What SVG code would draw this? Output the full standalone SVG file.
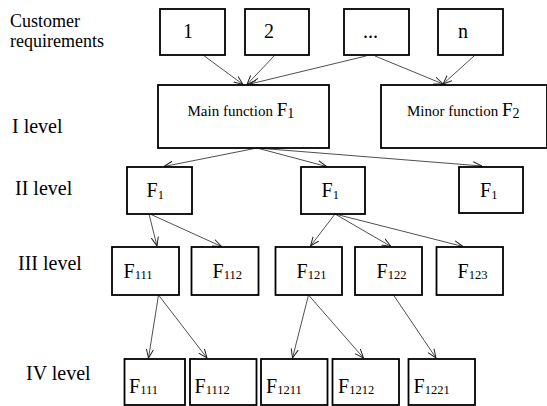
<svg xmlns="http://www.w3.org/2000/svg" width="547" height="406" viewBox="0 0 547 406">
<style>
  .box { fill: #fff; stroke: #000; stroke-width: 1.8; }
  .lbl { font-family: 'Liberation Serif', 'Times New Roman', serif; fill: #000; }
  .lv { font-size: 20px; }
  .cr { font-size: 18px; }
  .num { font-size: 20px; }
  .fn { font-size: 15px; }
  .F { font-size: 20px; }
  .F2 { font-size: 19px; }
  .sub { font-size: 12.5px; }
  .sub2 { font-size: 14px; }
  .con line { stroke: #222; stroke-width: 0.8; fill: none; marker-end: url(#ah); }
</style>
<defs>
  <marker id="ah" viewBox="0 0 10 10" refX="10" refY="5" markerWidth="9" markerHeight="9" markerUnits="userSpaceOnUse" orient="auto">
    <path d="M0,1 L10,5 L0,9" fill="none" stroke="#222" stroke-width="1.1"/>
  </marker>
</defs>

<g id="level-labels" class="lbl">
  <text class="cr" x="10" y="27">Customer</text>
  <text class="cr" x="10" y="47">requirements</text>
  <text class="lv" x="12" y="133">I level</text>
  <text class="lv" x="15" y="195">II level</text>
  <text class="lv" x="18" y="270">III level</text>
  <text class="lv" x="26" y="380">IV level</text>
</g>

<g id="connectors" class="con">
  <line x1="203" y1="55" x2="243" y2="84.5"/>
  <line x1="275" y1="55" x2="247" y2="84.5"/>
  <line x1="366" y1="56" x2="250" y2="84"/>
  <line x1="375" y1="56" x2="443" y2="84"/>
  <line x1="474" y1="56" x2="443" y2="84"/>

  <line x1="257" y1="148" x2="164" y2="166.5"/>
  <line x1="257" y1="148" x2="326.5" y2="166.5"/>
  <line x1="257" y1="148" x2="482" y2="166"/>

  <line x1="149" y1="214" x2="157" y2="246"/>
  <line x1="150" y1="214" x2="221.5" y2="246.5"/>
  <line x1="335" y1="214" x2="310.5" y2="246"/>
  <line x1="335" y1="214" x2="391" y2="246.5"/>
  <line x1="335" y1="214" x2="463" y2="246.5"/>

  <line x1="158.5" y1="295" x2="148.5" y2="358"/>
  <line x1="158.5" y1="295" x2="207" y2="358"/>
  <line x1="308.5" y1="295" x2="292.5" y2="358"/>
  <line x1="308.5" y1="295" x2="363.5" y2="358"/>
  <line x1="393.5" y1="295" x2="436" y2="358"/>
</g>

<g id="req-1"><rect class="box" x="160" y="9" width="65" height="46"/><text class="lbl num" x="183" y="38">1</text></g>
<g id="req-2"><rect class="box" x="245" y="9" width="64" height="46"/><text class="lbl num" x="264" y="38">2</text></g>
<g id="req-dots"><rect class="box" x="344" y="9" width="65" height="46"/><text class="lbl num" x="363" y="38">...</text></g>
<g id="req-n"><rect class="box" x="438" y="9" width="65" height="46"/><text class="lbl num" x="458" y="38">n</text></g>

<g id="main-function"><rect class="box" x="158" y="85" width="171" height="63"/><text class="lbl fn" x="187.5" y="115.5">Main function <tspan class="F2">F</tspan><tspan class="sub2" dy="2.5">1</tspan></text></g>
<g id="minor-function"><rect class="box" x="381" y="85" width="166" height="63"/><text class="lbl fn" x="407" y="115.5">Minor function <tspan class="F2">F</tspan><tspan class="sub2" dy="2.5">2</tspan></text></g>

<g id="ii-1"><rect class="box" x="127" y="167" width="65" height="47"/><text class="lbl F" x="146.5" y="197">F<tspan class="sub" dy="2">1</tspan></text></g>
<g id="ii-2"><rect class="box" x="301" y="167" width="64" height="47"/><text class="lbl F" x="321.5" y="197">F<tspan class="sub" dy="2">1</tspan></text></g>
<g id="ii-3"><rect class="box" x="459" y="167" width="64" height="46"/><text class="lbl F" x="480" y="197">F<tspan class="sub" dy="2">1</tspan></text></g>

<g id="iii-111"><rect class="box" x="112" y="247" width="67" height="48"/><text class="lbl F" x="123.5" y="278">F<tspan class="sub" dy="1">111</tspan></text></g>
<g id="iii-112"><rect class="box" x="191.5" y="247" width="67" height="48"/><text class="lbl F" x="212.5" y="278">F<tspan class="sub" dy="1">112</tspan></text></g>
<g id="iii-121"><rect class="box" x="275.5" y="247" width="66.5" height="48"/><text class="lbl F" x="296.5" y="278">F<tspan class="sub" dy="1">121</tspan></text></g>
<g id="iii-122"><rect class="box" x="355" y="247" width="67" height="48"/><text class="lbl F" x="376.5" y="278">F<tspan class="sub" dy="1">122</tspan></text></g>
<g id="iii-123"><rect class="box" x="436.5" y="247" width="66.5" height="48"/><text class="lbl F" x="457.5" y="278">F<tspan class="sub" dy="1">123</tspan></text></g>

<g id="iv-111"><rect class="box" x="124.5" y="359" width="60.5" height="46"/><text class="lbl F" x="129" y="393">F<tspan class="sub" dy="1">111</tspan></text></g>
<g id="iv-1112"><rect class="box" x="190" y="359" width="66.5" height="46"/><text class="lbl F" x="194.5" y="393">F<tspan class="sub" dy="1">1112</tspan></text></g>
<g id="iv-1211"><rect class="box" x="261" y="359" width="66.5" height="46"/><text class="lbl F" x="266" y="393">F<tspan class="sub" dy="1">1211</tspan></text></g>
<g id="iv-1212"><rect class="box" x="332.5" y="359" width="66.5" height="46"/><text class="lbl F" x="338" y="393">F<tspan class="sub" dy="1">1212</tspan></text></g>
<g id="iv-1221"><rect class="box" x="408.5" y="359" width="66.5" height="46"/><text class="lbl F" x="413.5" y="393">F<tspan class="sub" dy="1">1221</tspan></text></g>
</svg>
